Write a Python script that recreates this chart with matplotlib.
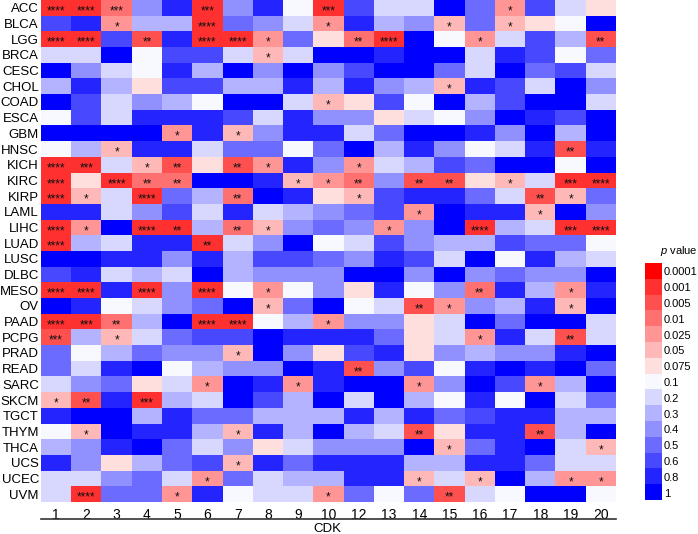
import numpy as np
import matplotlib
matplotlib.use("Agg")
import matplotlib.pyplot as plt
from matplotlib.colors import ListedColormap, BoundaryNorm

plt.rcParams['font.family'] = ['Liberation Sans', 'DejaVu Sans']
plt.rcParams['mathtext.fontset'] = 'custom'
plt.rcParams['mathtext.it'] = 'Liberation Sans:italic'
plt.rcParams['mathtext.rm'] = 'Liberation Sans'

cancers = ['ACC', 'BLCA', 'LGG', 'BRCA', 'CESC', 'CHOL', 'COAD', 'ESCA', 'GBM', 'HNSC',
           'KICH', 'KIRC', 'KIRP', 'LAML', 'LIHC', 'LUAD', 'LUSC', 'DLBC', 'MESO', 'OV',
           'PAAD', 'PCPG', 'PRAD', 'READ', 'SARC', 'SKCM', 'TGCT', 'THYM', 'THCA', 'UCS',
           'UCEC', 'UVM']
cdks = ['1', '2', '3', '4', '5', '6', '7', '8', '9', '10',
        '12', '13', '14', '15', '16', '17', '18', '19', '20']

# p values per cancer (columns follow cdks)
pvals = np.array([
    [.0005, .0005, .008, .35, .7, .0005, .35, .7, .09, .0005, .55, .15, .15, .9, .45, .02, .55, .15, .06],   # ACC
    [.55, .7, .02, .25, .25, .0005, .45, .35, .15, .02, .7, .25, .35, .04, .45, .04, .06, .09, .9],         # BLCA
    [.0005, .0005, .55, .003, .7, .0005, .0005, .02, .45, .06, .008, .0005, .9, .09, .02, .15, .55, .25, .003],  # LGG
    [.15, .15, .9, .09, .55, .55, .15, .04, .15, .9, .9, .7, .9, .9, .15, .7, .55, .09, .45],                # BRCA
    [.9, .35, .15, .09, .7, .25, .9, .35, .9, .35, .55, .9, .9, .45, .15, .9, .45, .55, .15],                # CESC
    [.25, .7, .25, .06, .55, .55, .25, .25, .7, .25, .7, .35, .25, .04, .7, .55, .15, .9, .35],              # CHOL
    [.9, .55, .15, .35, .25, .09, .9, .9, .15, .04, .06, .55, .09, .9, .25, .55, .9, .9, .15],               # COAD
    [.09, .55, .15, .7, .7, .7, .55, .15, .7, .35, .35, .06, .15, .09, .35, .9, .7, .55, .9],                # ESCA
    [.9, .9, .9, .9, .02, .7, .04, .35, .7, .7, .15, .45, .9, .9, .7, .35, .9, .25, .9],                     # GBM
    [.09, .25, .04, .7, .7, .15, .45, .45, .09, .45, .9, .25, .7, .35, .09, .15, .7, .003, .7],              # HNSC
    [.0005, .0005, .15, .04, .003, .06, .003, .02, .7, .35, .02, .15, .25, .55, .45, .9, .9, .09, .9],       # KICH
    [.0005, .06, .0005, .008, .008, .9, .9, .7, .04, .02, .008, .35, .003, .003, .06, .04, .15, .0005, .0005],  # KIRC
    [.0005, .04, .15, .0005, .45, .25, .008, .9, .7, .06, .04, .55, .7, .7, .45, .15, .003, .04, .45],       # KIRP
    [.7, .7, .15, .35, .55, .15, .7, .15, .25, .35, .45, .55, .02, .9, .7, .7, .04, .9, .35],                # LAML
    [.0005, .02, .9, .0005, .0005, .25, .008, .04, .35, .45, .35, .02, .35, .9, .0005, .25, .15, .0005, .0005],  # LIHC
    [.0005, .25, .15, .7, .7, .0005, .15, .35, .9, .09, .15, .55, .35, .25, .25, .55, .45, .45, .09],        # LUAD
    [.9, .9, .7, .7, .35, .7, .25, .55, .55, .45, .35, .7, .55, .15, .9, .09, .7, .25, .15],                 # LUSC
    [.55, .7, .15, .25, .15, .9, .25, .35, .35, .35, .9, .9, .35, .9, .35, .45, .35, .35, .9],               # DLBC
    [.0005, .0005, .7, .0005, .35, .0005, .09, .02, .09, .35, .06, .7, .09, .35, .008, .7, .25, .02, .7],    # MESO
    [.9, .7, .09, .15, .35, .45, .9, .04, .45, .9, .09, .15, .003, .02, .35, .25, .7, .04, .9],              # OV
    [.0005, .0005, .008, .25, .9, .0005, .0005, .09, .25, .02, .35, .35, .06, .15, .9, .45, .9, .9, .15],    # PAAD
    [.003, .25, .04, .15, .45, .55, .55, .9, .7, .7, .7, .45, .06, .15, .02, .7, .15, .003, .15],            # PCPG
    [.45, .09, .25, .45, .35, .35, .04, .9, .35, .06, .55, .7, .06, .35, .25, .35, .35, .7, .9],             # PRAD
    [.45, .15, .7, .9, .09, .25, .35, .35, .9, .7, .003, .35, .55, .09, .7, .9, .7, .9, .45],                # READ
    [.15, .35, .45, .06, .15, .02, .9, .7, .02, .7, .9, .9, .02, .35, .9, .55, .02, .25, .9],                # SARC
    [.04, .003, .7, .0005, .25, .15, .9, .55, .25, .9, .15, .9, .25, .09, .7, .09, .9, .15, .45],            # SKCM
    [.7, .9, .9, .25, .7, .45, .45, .25, .25, .25, .7, .25, .7, .45, .55, .7, .7, .25, .25],                 # TGCT
    [.09, .04, .9, .7, .7, .25, .04, .7, .25, .9, .25, .15, .003, .06, .7, .7, .003, .25, .9],               # THYM
    [.25, .35, .7, .9, .45, .15, .35, .06, .15, .35, .35, .35, .9, .04, .45, .7, .9, .15, .04],              # THCA
    [.7, .35, .06, .25, .45, .55, .04, .7, .45, .7, .7, .7, .25, .25, .7, .7, .45, .15, .15],                # UCS
    [.15, .15, .35, .45, .15, .02, .45, .15, .25, .25, .7, .7, .04, .15, .04, .9, .25, .02, .02],            # UCEC
    [.15, .0005, .45, .45, .02, .7, .09, .15, .15, .02, .45, .09, .45, .003, .15, .09, .9, .9, .09],         # UVM
])

# significance marks: (cancer, CDK, number of stars)
stars = [
    ('ACC', '1', 4), ('ACC', '2', 4), ('ACC', '3', 3), ('ACC', '6', 3), ('ACC', '10', 3), ('ACC', '17', 1),
    ('BLCA', '3', 1), ('BLCA', '6', 4), ('BLCA', '10', 1), ('BLCA', '15', 1), ('BLCA', '17', 1),
    ('LGG', '1', 4), ('LGG', '2', 4), ('LGG', '4', 2), ('LGG', '6', 4), ('LGG', '7', 4), ('LGG', '8', 1),
    ('LGG', '12', 2), ('LGG', '13', 4), ('LGG', '16', 1), ('LGG', '20', 2),
    ('BRCA', '8', 1), ('CHOL', '15', 1), ('COAD', '10', 1),
    ('GBM', '5', 1), ('GBM', '7', 1),
    ('HNSC', '3', 1), ('HNSC', '19', 2),
    ('KICH', '1', 4), ('KICH', '2', 3), ('KICH', '4', 1), ('KICH', '5', 2), ('KICH', '7', 2), ('KICH', '8', 1),
    ('KICH', '12', 1),
    ('KIRC', '1', 4), ('KIRC', '3', 4), ('KIRC', '4', 2), ('KIRC', '5', 2), ('KIRC', '9', 1), ('KIRC', '10', 1),
    ('KIRC', '12', 2), ('KIRC', '14', 2), ('KIRC', '15', 2), ('KIRC', '17', 1), ('KIRC', '19', 3), ('KIRC', '20', 4),
    ('KIRP', '1', 4), ('KIRP', '2', 1), ('KIRP', '4', 4), ('KIRP', '7', 2), ('KIRP', '12', 1), ('KIRP', '18', 2),
    ('KIRP', '19', 1),
    ('LAML', '14', 1), ('LAML', '18', 1),
    ('LIHC', '1', 4), ('LIHC', '2', 1), ('LIHC', '4', 4), ('LIHC', '5', 2), ('LIHC', '7', 2), ('LIHC', '8', 1),
    ('LIHC', '13', 1), ('LIHC', '16', 4), ('LIHC', '19', 3), ('LIHC', '20', 4),
    ('LUAD', '1', 4), ('LUAD', '6', 2),
    ('MESO', '1', 4), ('MESO', '2', 4), ('MESO', '4', 4), ('MESO', '6', 4), ('MESO', '8', 1), ('MESO', '16', 2),
    ('MESO', '19', 1),
    ('OV', '8', 1), ('OV', '14', 2), ('OV', '15', 1), ('OV', '19', 1),
    ('PAAD', '1', 4), ('PAAD', '2', 3), ('PAAD', '3', 2), ('PAAD', '6', 4), ('PAAD', '7', 4), ('PAAD', '10', 1),
    ('PCPG', '1', 3), ('PCPG', '3', 1), ('PCPG', '16', 1), ('PCPG', '19', 2),
    ('PRAD', '7', 1), ('READ', '12', 2),
    ('SARC', '6', 1), ('SARC', '9', 1), ('SARC', '14', 1), ('SARC', '18', 1),
    ('SKCM', '1', 1), ('SKCM', '2', 2), ('SKCM', '4', 3),
    ('THYM', '2', 1), ('THYM', '7', 1), ('THYM', '14', 2), ('THYM', '18', 2),
    ('THCA', '15', 1), ('THCA', '20', 1),
    ('UCS', '7', 1),
    ('UCEC', '6', 1), ('UCEC', '14', 1), ('UCEC', '16', 1), ('UCEC', '19', 1), ('UCEC', '20', 1),
    ('UVM', '2', 4), ('UVM', '5', 1), ('UVM', '10', 1), ('UVM', '15', 2),
]

legend_labels = ['0.0001', '0.001', '0.005', '0.01', '0.025', '0.05', '0.075',
                 '0.1', '0.2', '0.3', '0.4', '0.5', '0.6', '0.8', '1']
bounds = [0, 1e-4, 1e-3, 5e-3, 0.01, 0.025, 0.05, 0.075, 0.1, 0.2, 0.3, 0.4, 0.5, 0.6, 0.8, 1.0]
colors = ['#FF0000', '#FF3030', '#FF5050', '#FF7070', '#FF9595', '#FFB8B8', '#FFDEDE',
          '#F8F8FF', '#D8D8FF', '#B3B3FF', '#9090FF', '#6B6BFF', '#4848FF', '#2424FF', '#0000FF']
cmap = ListedColormap(colors)
norm = BoundaryNorm(bounds, cmap.N)

W, H = 698, 534
fig = plt.figure(figsize=(W / 100, H / 100), dpi=100)
ax = fig.add_axes([41 / W, 1 - 502 / H, 575 / W, 502 / H])
ax.imshow(pvals, cmap=cmap, norm=norm, aspect='auto', interpolation='nearest')

for cancer, cdk, n in stars:
    r = cancers.index(cancer)
    c = cdks.index(cdk)
    ax.text(c, r + 0.42, '*' * n, ha='center', va='baseline', fontsize=8.5, color='#111111')

ax.set_xticks(range(len(cdks)))
ax.set_xticklabels(cdks, fontsize=10)
ax.set_yticks(range(len(cancers)))
ax.set_yticklabels(cancers, fontsize=9.5)
ax.tick_params(length=0, pad=1.5)
ax.tick_params(axis='x', pad=4)
for s in ax.spines.values():
    s.set_visible(False)

# line under the CDK numbers
ax.plot([-0.5, len(cdks) - 0.5], [-0.034, -0.034], color='#333333', lw=1.2,
        transform=ax.get_xaxis_transform(), clip_on=False)
fig.text(327 / W, 1 - 529 / H, 'CDK', ha='center', va='center', fontsize=9.5)

# legend
top, box_h = 263, 15.8
cax = fig.add_axes([645 / W, 1 - (top + 15 * box_h) / H, 17 / W, 15 * box_h / H])
cax.imshow(np.arange(15).reshape(-1, 1), cmap=cmap, vmin=-0.5, vmax=14.5,
           aspect='auto', interpolation='nearest')
cax.axis('off')
for i, lab in enumerate(legend_labels):
    y = top + (i + 0.5) * box_h + 1.5
    fig.text(664 / W, 1 - y / H, lab, ha='left', va='center', fontsize=8)
fig.text(660 / W, 1 - 251 / H, '$p$ value', ha='left', va='center', fontsize=8)

fig.savefig('out.png', dpi=100)
